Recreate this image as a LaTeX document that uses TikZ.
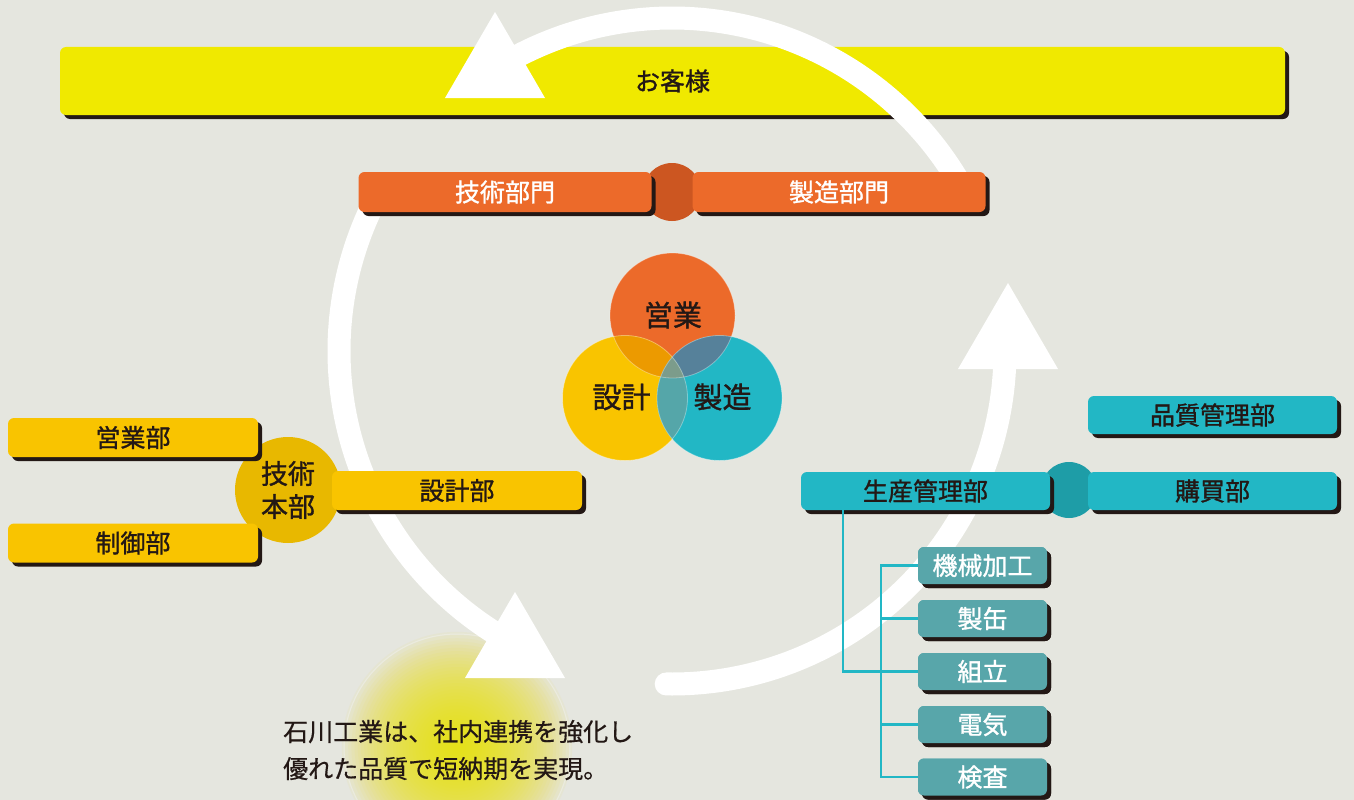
\documentclass[tikz,border=0pt]{standalone}
\usepackage{fontspec}
\newfontfamily\jp{Noto Sans CJK JP}[FakeBold=0.5]
\newfontfamily\jpb{Noto Sans CJK JP}[FakeBold=1.2]
\usetikzlibrary{shadows}
\definecolor{bgc}{HTML}{E5E6DF}
\definecolor{barc}{HTML}{F0E900}
\definecolor{orc}{HTML}{EC6A2A}
\definecolor{ordk}{HTML}{CC5621}
\definecolor{yec}{HTML}{F9C400}
\definecolor{yedk}{HTML}{E8B800}
\definecolor{tec}{HTML}{22B7C5}
\definecolor{tedk}{HTML}{1E9DA7}
\definecolor{tesm}{HTML}{58A6AA}
\definecolor{ink}{HTML}{231815}
\definecolor{oyc}{HTML}{EC9A00}
\definecolor{otc}{HTML}{56819A}
\definecolor{ytc}{HTML}{55A6A9}
\definecolor{oytc}{HTML}{7C9C8B}
\definecolor{glowc}{HTML}{EBE000}
\begin{document}
\begin{tikzpicture}[x=1pt,y=-1pt,
  shad/.style={drop shadow={shadow xshift=4pt,shadow yshift=-4pt,fill=ink,opacity=1}},
  lbl/.style={font=\jpb\fontsize{25}{30}\selectfont},
  bx/.style={shad, rounded corners=6pt, inner sep=0pt, lbl},
  custbar/.style={bx, fill=barc, text=ink, minimum width=1225pt, minimum height=68pt},
  obox/.style={bx, fill=orc, text=white, minimum width=293pt, minimum height=40pt},
  ybox/.style={bx, fill=yec, text=ink, minimum width=250pt, minimum height=39pt},
  tbox/.style={bx, fill=tec, text=ink, minimum width=249pt, minimum height=38pt},
  sbox/.style={bx, fill=tesm, text=white, minimum width=129pt, minimum height=37pt},
  flowarc/.style={white, line width=23pt},
  treeline/.style={tec, line width=2.5pt},
  venn/.style={circle, minimum size=125pt, inner sep=0pt},
  vlbl/.style={font=\jpb\fontsize{29}{34}\selectfont, text=ink, inner sep=0pt},
  msg/.style={font=\jp\fontsize{25}{30}\selectfont, text=ink, inner sep=0pt, anchor=base west},
]
\useasboundingbox (0,0) rectangle (1354,800);
\fill[bgc] (0,0) rectangle (1354,800);

% glow behind the message
\coordinate (glow) at (457,747);
\foreach \i in {1,...,36}
  \fill[glowc, opacity=0.05] (glow) circle ({3.2*\i pt});
\draw[white, opacity=0.25, line width=1pt] (glow) circle (113pt);

% customers bar
\node[custbar] (kyaku) at (672.5,81) {お客様};

% circular flow
\draw[flowarc] plot[domain=-122:-27, samples=90] ({672+333*cos(\x)},{351+333*sin(\x)});
\draw[flowarc] plot[domain=118:207, samples=90] ({672+333*cos(\x)},{351+333*sin(\x)});
\draw[flowarc, line cap=round] plot[domain=-2:91, samples=90] ({672+333*cos(\x)},{351+333*sin(\x)});
\coordinate (tipA) at (495,12);
\coordinate (tipB) at (515,592);
\coordinate (tipC) at (1008,283);
\foreach \t in {tipA,tipB,tipC}
  \fill[white] (\t) -- ++(-50,86) -- ++(100,0) -- cycle;

% departments
\node[circle, fill=ordk, minimum size=58pt, inner sep=0pt] (ojoin) at (672,192) {};
\node[obox] (gijutsu) at (505,192) {技術部門};
\node[obox] (seizou) at (839,192) {製造部門};

% venn
\node[venn, fill=orc] (veigyo) at (672.5,315.5) {};
\node[venn, fill=yec] (vsekkei) at (625,398) {};
\node[venn, fill=tec] (vseizo) at (719.5,398) {};
\begin{scope}
  \clip (veigyo.center) circle (62.5pt);
  \fill[oyc] (vsekkei.center) circle (62.5pt);
  \fill[otc] (vseizo.center) circle (62.5pt);
\end{scope}
\begin{scope}
  \clip (vsekkei.center) circle (62.5pt);
  \fill[ytc] (vseizo.center) circle (62.5pt);
\end{scope}
\begin{scope}
  \clip (veigyo.center) circle (62.5pt);
  \clip (vsekkei.center) circle (62.5pt);
  \fill[oytc] (vseizo.center) circle (62.5pt);
\end{scope}
\foreach \n in {veigyo,vsekkei,vseizo}
  \draw[white, opacity=0.35, line width=0.8pt] (\n.center) circle (62.5pt);
\node[vlbl] (teigyo) at (673,315) {営業};
\node[vlbl] (tsekkei) at (621.5,397) {設計};
\node[vlbl] (tseizo) at (722.5,397) {製造};

% left cluster
\node[circle, fill=yedk, minimum size=106pt, inner sep=0pt, text=ink, align=center,
      font=\jpb\fontsize{27}{33}\selectfont] (honbu) at (288,490) {技術\\本部};
\node[ybox] (eigyobu) at (133,437.5) {営業部};
\node[ybox] (seigyobu) at (133,543) {制御部};
\node[ybox] (sekkeibu) at (457,490.5) {設計部};

% right cluster
\node[circle, fill=tedk, minimum size=56pt, inner sep=0pt] (tjoin) at (1069,490) {};
\node[tbox] (hinshitsu) at (1212.5,415) {品質管理部};
\node[tbox] (seisan) at (925.5,491) {生産管理部};
\node[tbox] (koubai) at (1212.5,491) {購買部};

% production tree
\node[sbox] (kikai) at (982.5,565.5) {};
\node[sbox] (seikan) at (982.5,618.5) {};
\node[sbox] (kumi) at (982.5,671.5) {};
\node[sbox] (denki) at (982.5,724.5) {};
\node[sbox] (kensa) at (982.5,777) {};
\coordinate (trunkA) at (843,510);
\coordinate (trunkB) at (881,0);
\draw[treeline] (trunkA) |- (kumi.west);
\draw[treeline] (kikai.west) -- (kikai.west -| trunkB) |- (kensa.west);
\foreach \n in {seikan,kumi,denki}
  \draw[treeline] (\n.west -| trunkB) -- (\n.west);
\node[sbox] at (kikai) {機械加工};
\node[sbox] at (seikan) {製缶};
\node[sbox] at (kumi) {組立};
\node[sbox] at (denki) {電気};
\node[sbox] at (kensa) {検査};

% message
\node[msg] (msg1) at (283,741) {石川工業は、社内連携を強化し};
\node[msg] (msg2) at (283,778) {優れた品質で短納期を実現。};
\end{tikzpicture}
\end{document}
